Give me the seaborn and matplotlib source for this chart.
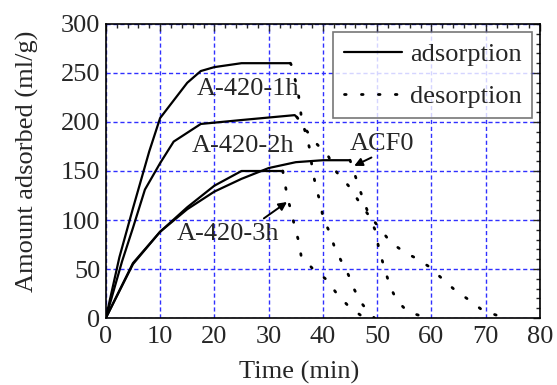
import numpy as np
import pandas as pd
import seaborn as sns
import matplotlib.pyplot as plt
from matplotlib.ticker import MultipleLocator

# adsorption branches (time in min, amount in ml/g)
ads_1h_t = [0, 2.5, 5, 8, 10, 12.5, 15, 17.5, 20, 25, 34]
ads_1h_v = [0, 62, 112, 170, 204, 222, 240, 252, 256, 260, 260]
ads_2h_t = [0, 3, 5, 7.2, 10, 12.5, 17.5, 25, 34.8, 35.2]
ads_2h_v = [0, 58, 92, 131, 158, 180, 198, 202, 207, 205]
ads_3h_t = [0, 5, 10, 15, 20, 25, 32.6]
ads_3h_v = [0, 56, 88, 113, 135, 150, 150]
ads_acf_t = [0, 5, 10, 15, 20, 25, 30, 35, 40, 45]
ads_acf_v = [0, 55, 88, 111, 129, 142, 153, 159, 161, 161]

# desorption branches
des_1h_t = [34, 34.2, 35.4, 35.8, 36.1, 36.9, 37.5, 37.9, 38.2, 38.8, 39.6, 40, 41.2, 42.1, 43.3, 44.7, 45.7, 47, 48.7, 49.5]
des_1h_v = [260, 258, 232, 215, 202, 187, 174, 158, 148, 131, 117, 102, 88, 73, 59, 44, 30, 16, 4, 0]
des_2h_t = [35.2, 37, 38.8, 41, 42.5, 44.7, 46.5, 48.4, 49.6, 50.2, 50.8, 51.6, 52.4, 53.6, 55.7, 58.2, 60]
des_2h_v = [205, 191, 178, 165, 149, 135, 120, 105, 90, 74, 61, 46, 32, 18, 6, 2, 0]
des_3h_t = [32.6, 33, 33.6, 34.2, 34.8, 35.5, 36, 38, 40.7, 42.6, 44.9, 47.4, 48]
des_3h_v = [150, 137, 120, 108, 93, 79, 63, 51, 39, 24.5, 11, 1, 0]
des_acf_t = [45, 45.9, 46.8, 47.6, 48.5, 50.5, 52.5, 55.1, 56.8, 59.4, 61.9, 64.3, 67.1, 69.5, 72.3, 73]
des_acf_v = [161, 146, 131, 118, 105, 91.5, 77, 67, 62, 53, 40.5, 28.6, 17.7, 7.5, 2.3, 0]

x_ticks = [0, 10, 20, 30, 40, 50, 60, 70, 80]
y_ticks = [0, 50, 100, 150, 200, 250, 300]

sns.set_style("white")
plt.rcParams['font.family'] = ['Liberation Serif', 'DejaVu Serif']

fs = 19
fig = plt.figure(figsize=(5.57, 3.85), dpi=100)
ax = fig.add_axes([0.190, 0.174, 0.7795, 0.7637])

ads = [(ads_1h_t, ads_1h_v), (ads_2h_t, ads_2h_v), (ads_3h_t, ads_3h_v), (ads_acf_t, ads_acf_v)]
des = [(des_1h_t, des_1h_v), (des_2h_t, des_2h_v), (des_3h_t, des_3h_v), (des_acf_t, des_acf_v)]

for i, (t, v) in enumerate(ads):
    df = pd.DataFrame({'t': t, 'v': v})
    sns.lineplot(data=df, x='t', y='v', ax=ax, color='black', lw=1.6, sort=False,
                 estimator=None, label='adsorption' if i == 0 else None)
for i, (t, v) in enumerate(des):
    df = pd.DataFrame({'t': t, 'v': v})
    sns.lineplot(data=df, x='t', y='v', ax=ax, color='black', lw=2.0, sort=False,
                 estimator=None, linestyle=(0, (0.6, 5.5)), dash_capstyle='round',
                 label='desorption' if i == 0 else None)

ax.set_xlim(0, 80)
ax.set_ylim(0, 300)
ax.set_xticks(x_ticks)
ax.set_yticks(y_ticks)
ax.xaxis.set_minor_locator(MultipleLocator(2))
ax.yaxis.set_minor_locator(MultipleLocator(10))
ax.tick_params(which='both', direction='in', top=True, right=True, labelsize=fs, pad=4)
ax.tick_params(axis='x', which='both', pad=6)
ax.tick_params(which='major', length=5, width=1)
ax.tick_params(which='minor', length=3, width=1)
ax.grid(True, which='major', color='#3030ff', linestyle=(0, (3, 2)), lw=1)
for s in ax.spines.values():
    s.set_color('black')
    s.set_linewidth(1.2)

ax.set_xlabel('Time (min)', fontsize=fs)
ax.set_ylabel('Amount adsorbed (ml/g)', fontsize=fs)
ax.xaxis.set_label_coords(0.445, -0.145)
ax.yaxis.set_label_coords(-0.153, 0.534)

ax.text(16.7, 234, 'A-420-1h', fontsize=fs, va='center', ha='left')
ax.text(15.8, 175, 'A-420-2h', fontsize=fs, va='center', ha='left')
ax.text(13, 86, 'A-420-3h', fontsize=fs, va='center', ha='left')
ax.text(45, 178, 'ACF0', fontsize=fs, va='center', ha='left')
ax.annotate('', xy=(33.8, 120), xytext=(28.7, 100),
            arrowprops=dict(arrowstyle='-|>', color='black', lw=1.4, mutation_scale=12))
ax.annotate('', xy=(45.3, 154), xytext=(49.4, 165),
            arrowprops=dict(arrowstyle='-|>', color='black', lw=1.4, mutation_scale=12))

leg = ax.legend(loc='upper right', fontsize=fs, frameon=True, fancybox=False,
                edgecolor='#555555', handlelength=2.2, handletextpad=0.3,
                borderpad=0.4, labelspacing=0.7, borderaxespad=0.3)
leg.get_frame().set_linewidth(1.2)

fig.savefig('out.png', dpi=100)
